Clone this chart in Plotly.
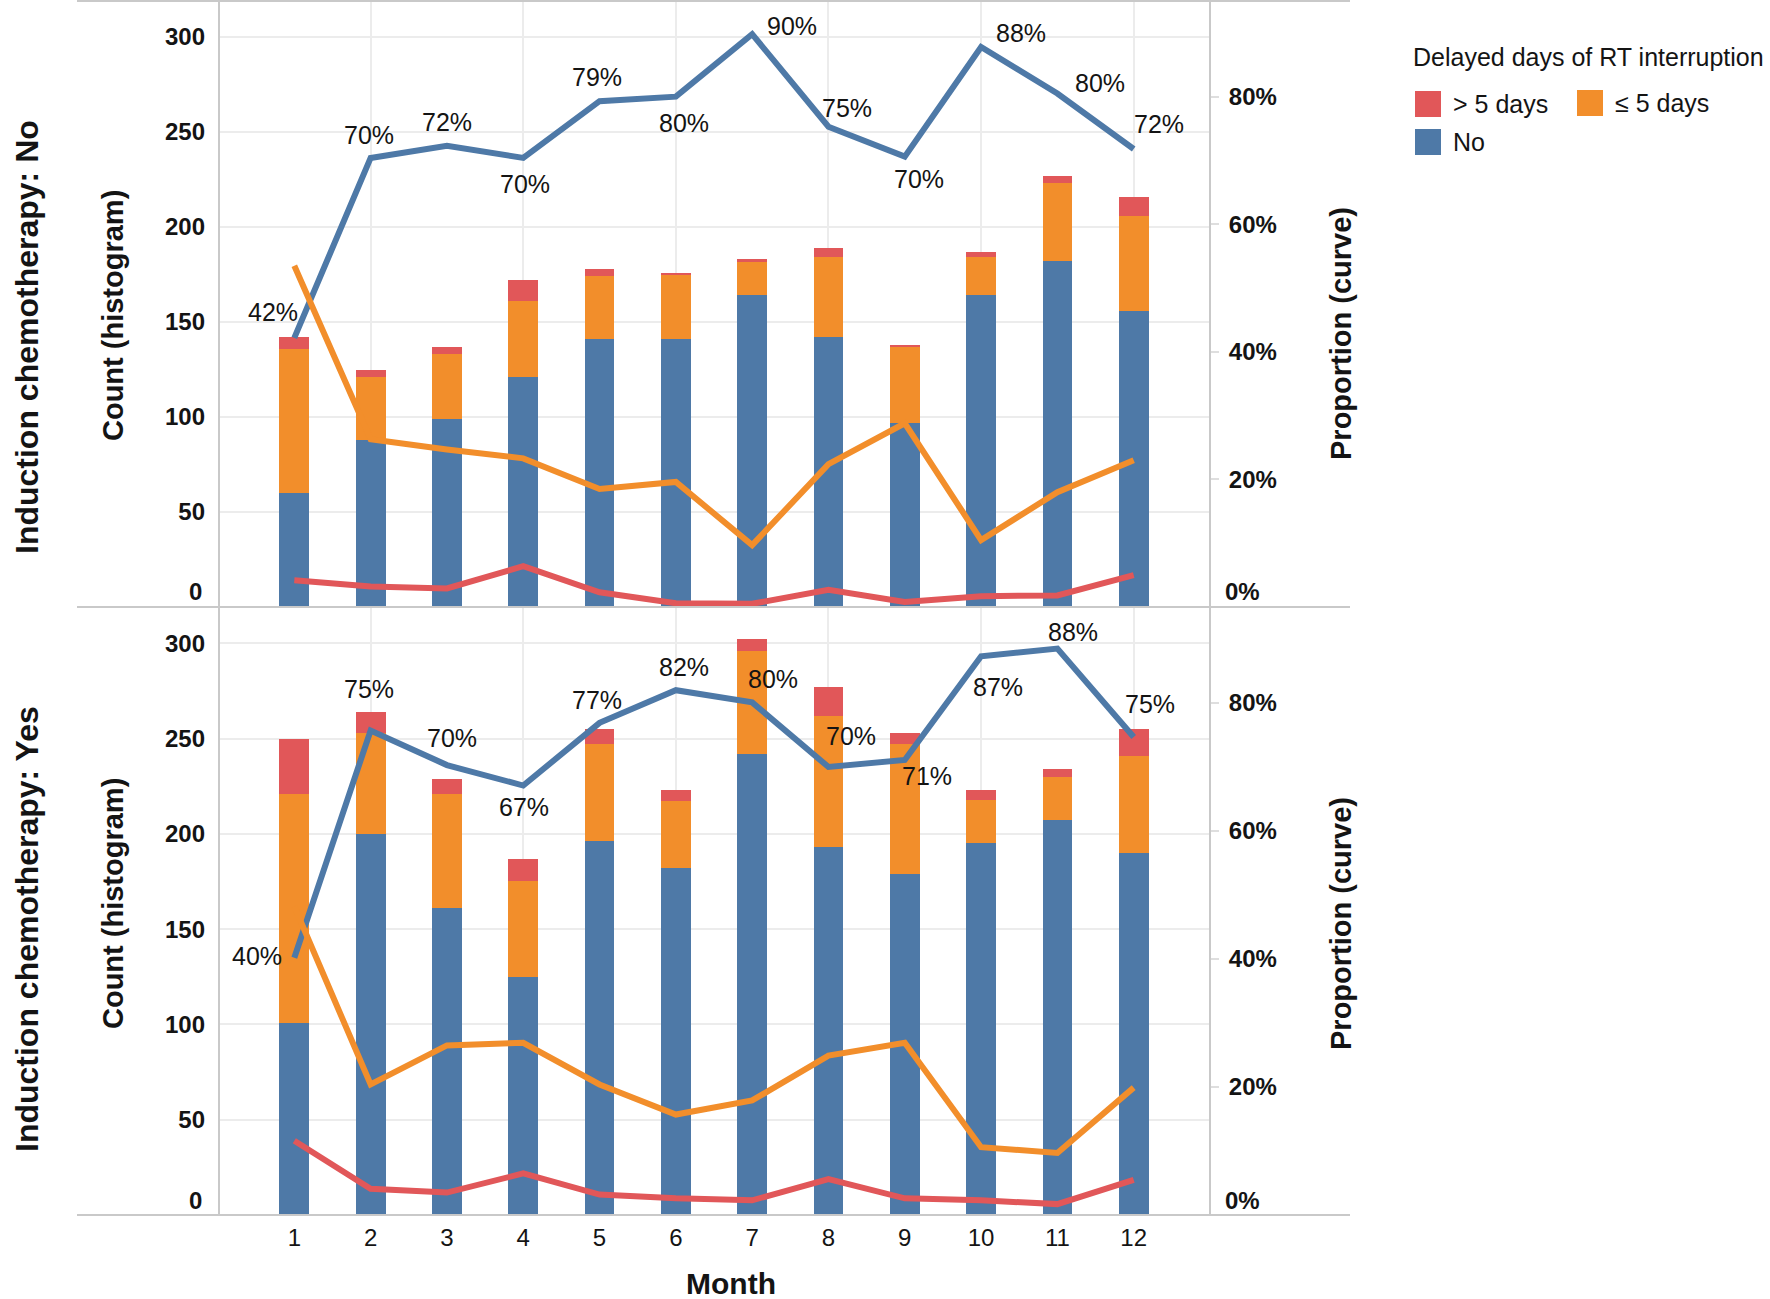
import plotly.graph_objects as go

W, H = 1770, 1299

# ---------------- data ----------------
months = list(range(1, 13))
month_labels = [str(m) for m in months]
count_ticks = [50, 100, 150, 200, 250, 300]
prop_ticks = [0.2, 0.4, 0.6, 0.8]
prop_tick_labels = ["20%", "40%", "60%", "80%"]

# Induction chemotherapy: No  (counts, histogram)
no_cnt_none = [60, 88, 99, 121, 141, 141, 164, 142, 97, 164, 182, 156]
no_cnt_le5 = [76, 33, 34, 40, 33, 34, 18, 42, 40, 20, 41, 50]
no_cnt_gt5 = [6, 4, 4, 11, 4, 1, 1, 5, 1, 3, 4, 10]
# Induction chemotherapy: No  (proportions, curve)
no_prop_none = [0.422, 0.704, 0.723, 0.704, 0.793, 0.800, 0.898, 0.753, 0.706, 0.878, 0.805, 0.718]
no_prop_le5 = [0.535, 0.263, 0.247, 0.233, 0.185, 0.196, 0.097, 0.224, 0.288, 0.105, 0.180, 0.230]
no_prop_gt5 = [0.042, 0.032, 0.029, 0.064, 0.023, 0.006, 0.005, 0.027, 0.008, 0.017, 0.018, 0.050]
no_labels = ["42%", "70%", "72%", "70%", "79%", "80%", "90%", "75%", "70%", "88%", "80%", "72%"]

# Induction chemotherapy: Yes  (counts, histogram)
yes_cnt_none = [101, 200, 161, 125, 196, 182, 242, 193, 179, 195, 207, 190]
yes_cnt_le5 = [120, 53, 60, 50, 51, 35, 54, 69, 68, 23, 23, 51]
yes_cnt_gt5 = [29, 11, 8, 12, 8, 6, 6, 15, 6, 5, 4, 14]
# Induction chemotherapy: Yes  (proportions, curve)
yes_prop_none = [0.402, 0.757, 0.703, 0.671, 0.769, 0.820, 0.801, 0.700, 0.711, 0.873, 0.885, 0.747]
yes_prop_le5 = [0.482, 0.204, 0.265, 0.269, 0.204, 0.157, 0.179, 0.249, 0.269, 0.106, 0.097, 0.199]
yes_prop_gt5 = [0.116, 0.041, 0.035, 0.065, 0.032, 0.026, 0.023, 0.056, 0.026, 0.023, 0.017, 0.055]
yes_labels = ["40%", "75%", "70%", "67%", "77%", "82%", "80%", "70%", "71%", "87%", "88%", "75%"]

# ---------------- style ----------------
BLUE, ORANGE, RED = "#4E79A7", "#F28E2B", "#E15759"
GRID = "#ececec"
FRAME = "#c9c9c9"
FONT = "Liberation Sans, Arial, sans-serif"
INK = "#141414"

# label offsets in pixels (dx, dy up) – placement only
no_label_shift = [(-21, 26), (-2, 23), (0, 24), (2, -26), (-3, 24), (8, -26),
                  (40, 8), (19, 19), (14, -22), (40, 14), (43, 10), (25, 25)]
yes_label_shift = [(-37, 2), (-2, 42), (5, 27), (1, -21), (-3, 23), (8, 23),
                   (21, 23), (23, 31), (22, -16), (17, -31), (16, 17), (16, 33)]


def px(x):
    return x / W


def py(y):
    return 1 - y / H


X_DOM = [px(218), px(1210)]
TOP_DOM = [py(607), py(1)]
BOT_DOM = [py(1215), py(607)]

fig = go.Figure()


def add_panel(xa, ya, ya2, cnt_none, cnt_le5, cnt_gt5, p_none, p_le5, p_gt5):
    for vals, col, name in [(cnt_none, BLUE, "No"), (cnt_le5, ORANGE, "≤ 5 days"),
                            (cnt_gt5, RED, "> 5 days")]:
        fig.add_trace(go.Bar(x=months, y=vals, name=name, marker_color=col,
                             marker_line=dict(width=0), width=0.39,
                             xaxis=xa, yaxis=ya, showlegend=False))
    for vals, col, name in [(p_none, BLUE, "No"), (p_le5, ORANGE, "≤ 5 days"),
                            (p_gt5, RED, "> 5 days")]:
        fig.add_trace(go.Scatter(x=months, y=vals, mode="lines", name=name,
                                 line=dict(color=col, width=6),
                                 xaxis=xa, yaxis=ya2, showlegend=False))


add_panel("x", "y", "y2", no_cnt_none, no_cnt_le5, no_cnt_gt5,
          no_prop_none, no_prop_le5, no_prop_gt5)
add_panel("x2", "y3", "y4", yes_cnt_none, yes_cnt_le5, yes_cnt_gt5,
          yes_prop_none, yes_prop_le5, yes_prop_gt5)
# empty trace so the grid-only overlay axis gets drawn
fig.add_trace(go.Scatter(x=[], y=[], xaxis="x3", yaxis="y3", showlegend=False))

tickfont_b = dict(family=FONT, size=24, color=INK, weight="bold")
even = [2, 4, 6, 8, 10, 12]


def yleft(dom, anchor):
    return dict(domain=dom, anchor=anchor, range=[0, 319], tickvals=count_ticks,
                showgrid=True, gridcolor=GRID, gridwidth=2, zeroline=False,
                showline=False, ticks="", tickfont=tickfont_b,
                ticklabelstandoff=12, automargin=False, fixedrange=True)


def yright(over, anchor):
    return dict(overlaying=over, anchor=anchor, side="right", range=[0, 0.95],
                tickvals=prop_ticks, ticktext=prop_tick_labels, showgrid=False,
                zeroline=False, showline=False, ticks="outside", ticklen=8,
                tickcolor="#dedede", tickwidth=2, tickfont=tickfont_b,
                ticklabelstandoff=5, automargin=False)


fig.update_layout(
    width=W, height=H, template="none", barmode="stack",
    paper_bgcolor="white", plot_bgcolor="white",
    margin=dict(l=0, r=0, t=0, b=0), showlegend=False,
    font=dict(family=FONT, color=INK),
    xaxis=dict(domain=X_DOM, anchor="y", range=[0, 13], tickvals=even,
               showticklabels=False, showgrid=True, gridcolor=GRID, gridwidth=2,
               zeroline=False, showline=False, ticks="", automargin=False),
    xaxis2=dict(domain=X_DOM, anchor="y3", range=[0, 13], tickvals=months,
                ticktext=month_labels, showgrid=False, zeroline=False,
                showline=False, ticks="", ticklabelstandoff=6,
                tickfont=dict(family=FONT, size=24, color=INK), automargin=False),
    xaxis3=dict(overlaying="x2", anchor="y3", range=[0, 13], tickvals=even,
                showticklabels=False, showgrid=True, gridcolor=GRID, gridwidth=2,
                zeroline=False, showline=False, ticks=""),
    yaxis=yleft(TOP_DOM, "x"),
    yaxis2=yright("y", "x"),
    yaxis3=yleft(BOT_DOM, "x2"),
    yaxis4=yright("y3", "x2"),
)

shapes = []
# frame lines
for yy in [1, 607, 1215]:
    shapes.append(dict(type="line", xref="paper", yref="paper", x0=px(77), x1=px(1350),
                       y0=py(yy), y1=py(yy), line=dict(color=FRAME, width=2)))
for xx in [219, 1210]:
    shapes.append(dict(type="line", xref="paper", yref="paper", x0=px(xx), x1=px(xx),
                       y0=py(0), y1=py(1215), line=dict(color=FRAME, width=2)))

annotations = []


def pct_labels(labels, props, shifts, yref):
    for m, lab, p, (dx, dy) in zip(months, labels, props, shifts):
        annotations.append(dict(x=m, y=p, xref="x", yref=yref, text=lab,
                                showarrow=False, xshift=dx, yshift=dy,
                                font=dict(family=FONT, size=25, color=INK)))


pct_labels(no_labels, no_prop_none, no_label_shift, "y2")
pct_labels(yes_labels, yes_prop_none, yes_label_shift, "y4")

# zero tick labels (sit slightly above the baseline)
for yref_l, yref_r in [("y", "y2"), ("y3", "y4")]:
    annotations.append(dict(x=px(204), xref="paper", xanchor="right", y=0, yref=yref_l,
                            yanchor="middle", yshift=15, text="0", showarrow=False,
                            font=tickfont_b))
    annotations.append(dict(x=px(1223), xref="paper", xanchor="left", y=0, yref=yref_r,
                            yanchor="middle", yshift=15, text="0%", showarrow=False,
                            font=tickfont_b))

title_b = dict(family=FONT, size=29, color=INK, weight="bold")
facet_b = dict(family=FONT, size=32, color=INK, weight="bold")
for cy, facet, cyc, cyp in [(337, "Induction chemotherapy: No", 316, 334),
                            (929, "Induction chemotherapy: Yes", 904, 924)]:
    annotations.append(dict(x=px(27), y=py(cy), xref="paper", yref="paper", text=facet,
                            textangle=-90, showarrow=False, font=facet_b,
                            xanchor="center", yanchor="middle"))
    annotations.append(dict(x=px(113), y=py(cyc), xref="paper", yref="paper",
                            text="Count (histogram)", textangle=-90, showarrow=False,
                            font=title_b, xanchor="center", yanchor="middle"))
    annotations.append(dict(x=px(1341), y=py(cyp), xref="paper", yref="paper",
                            text="Proportion (curve)", textangle=-90, showarrow=False,
                            font=title_b, xanchor="center", yanchor="middle"))

annotations.append(dict(x=px(731), y=py(1283), xref="paper", yref="paper", text="Month",
                        showarrow=False, font=dict(family=FONT, size=30, color=INK, weight="bold"),
                        xanchor="center", yanchor="middle"))

# legend (drawn to match the reference's large swatches)
leg_font = dict(family=FONT, size=25, color=INK)
annotations.append(dict(x=px(1411), y=py(57), xref="paper", yref="paper",
                        text="Delayed days of RT interruption", showarrow=False,
                        font=leg_font, xanchor="left", yanchor="middle"))
legend_items = [("> 5 days", RED, 1415, 104), ("≤ 5 days", ORANGE, 1577, 103),
                ("No", BLUE, 1415, 142)]
for name, col, lx, ly in legend_items:
    shapes.append(dict(type="rect", xref="paper", yref="paper", x0=px(lx), x1=px(lx + 26),
                       y0=py(ly + 13), y1=py(ly - 13), fillcolor=col,
                       line=dict(width=0)))
    annotations.append(dict(x=px(lx + 36), y=py(ly), xref="paper", yref="paper", text=name,
                            showarrow=False, font=leg_font, xanchor="left",
                            yanchor="middle"))

fig.update_layout(shapes=shapes, annotations=annotations)
fig.write_html("out.html", config={"displayModeBar": False},
               post_script="document.body.style.margin='0';document.body.style.overflow='hidden';")
